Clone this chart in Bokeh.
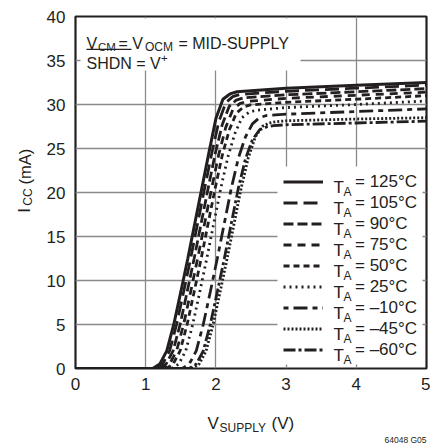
from math import pi
from bokeh.plotting import figure
from bokeh.layouts import column, row
from bokeh.models import Range1d, FixedTicker, Legend, LegendItem, Label, BoxAnnotation
from bokeh.embed import file_html
from bokeh.resources import INLINE

# ---------------- data ----------------
x_ticks = [0, 1, 2, 3, 4, 5]
y_ticks = [0, 5, 10, 15, 20, 25, 30, 35, 40]

temps = ["125°C", "105°C", "90°C", "75°C", "50°C", "25°C", "–10°C", "–45°C", "–60°C"]

v_125 = [0, 1.10, 1.20, 1.30, 1.40, 1.50, 1.60, 1.70, 1.80, 1.90, 2.00, 2.10, 2.20, 2.30, 3.0, 4.0, 5.0]
i_125 = [0, 0, 0.5, 2.0, 5.0, 8.7, 12.5, 16.5, 20.5, 24.5, 28.4, 30.6, 31.2, 31.45, 31.85, 32.2, 32.5]

v_105 = [0, 1.14, 1.24, 1.34, 1.44, 1.54, 1.64, 1.74, 1.84, 1.94, 2.04, 2.14, 2.24, 2.34, 3.0, 4.0, 5.0]
i_105 = [0, 0, 0.5, 2.0, 5.0, 8.7, 12.5, 16.5, 20.5, 24.4, 28.0, 30.2, 30.9, 31.15, 31.5, 31.85, 32.2]

v_90 = [0, 1.19, 1.29, 1.39, 1.49, 1.59, 1.69, 1.79, 1.89, 1.99, 2.09, 2.19, 2.29, 2.39, 3.0, 4.0, 5.0]
i_90 = [0, 0, 0.5, 2.0, 5.0, 8.7, 12.5, 16.5, 20.5, 24.4, 27.7, 29.8, 30.5, 30.75, 31.1, 31.45, 31.8]

v_75 = [0, 1.24, 1.34, 1.44, 1.54, 1.64, 1.74, 1.84, 1.94, 2.04, 2.14, 2.24, 2.34, 2.44, 3.0, 4.0, 5.0]
i_75 = [0, 0, 0.5, 2.0, 5.0, 8.7, 12.5, 16.5, 20.5, 24.3, 27.4, 29.4, 30.1, 30.35, 30.7, 31.05, 31.4]

v_50 = [0, 1.29, 1.39, 1.49, 1.59, 1.69, 1.79, 1.89, 1.99, 2.09, 2.19, 2.29, 2.39, 2.49, 3.0, 4.0, 5.0]
i_50 = [0, 0, 0.5, 2.0, 5.0, 8.7, 12.5, 16.5, 20.5, 24.2, 27.1, 29.0, 29.7, 29.95, 30.25, 30.6, 31.0]

v_25 = [0, 1.37, 1.47, 1.57, 1.67, 1.77, 1.87, 1.97, 2.07, 2.17, 2.27, 2.37, 2.47, 2.57, 3.0, 4.0, 5.0]
i_25 = [0, 0, 0.5, 2.0, 5.0, 8.7, 12.5, 16.5, 20.5, 24.0, 26.7, 28.5, 29.1, 29.35, 29.65, 30.0, 30.4]

v_m10 = [0, 1.52, 1.62, 1.72, 1.82, 1.92, 2.02, 2.12, 2.22, 2.32, 2.42, 2.52, 2.62, 2.72, 3.0, 4.0, 5.0]
i_m10 = [0, 0, 0.5, 2.0, 5.0, 8.7, 12.5, 16.5, 20.5, 23.9, 26.3, 27.8, 28.5, 28.75, 28.9, 29.2, 29.5]

v_m45 = [0, 1.66, 1.76, 1.86, 1.96, 2.06, 2.16, 2.26, 2.36, 2.46, 2.56, 2.66, 2.76, 2.86, 3.0, 4.0, 5.0]
i_m45 = [0, 0, 0.5, 2.0, 5.0, 8.7, 12.5, 16.5, 20.5, 23.9, 26.3, 27.5, 27.9, 28.05, 28.15, 28.35, 28.5]

v_m60 = [0, 1.62, 1.72, 1.82, 1.92, 2.02, 2.12, 2.22, 2.32, 2.42, 2.52, 2.62, 2.72, 2.82, 3.0, 4.0, 5.0]
i_m60 = [0, 0, 0.5, 2.0, 5.0, 8.7, 12.5, 16.5, 20.5, 23.8, 26.0, 27.1, 27.45, 27.6, 27.7, 27.9, 28.1]

series_v = [v_125, v_105, v_90, v_75, v_50, v_25, v_m10, v_m45, v_m60]
series_i = [i_125, i_105, i_90, i_75, i_50, i_25, i_m10, i_m45, i_m60]

# ---------------- styles / layout ----------------
dashes = ["solid", "14 6", "10 4", "8 6", "6 4", "2 4", "5 5 14 5", "2 2", "12 3 3 3"]
widths = [3.0, 2.8, 2.8, 2.8, 2.8, 2.8, 2.8, 2.8, 2.8]
INK = "#231f20"
FONT = "Liberation Sans"

PAGE_W, PAGE_H = 430, 444
LEFT_W = 40              # strip holding the y title
MAIN_H = 400             # main plot height (bottom strip holds the x title)
FL, FT = 75, 16          # frame left/top in page px
FW, FH = 351, 352        # frame size
XMAX, YMAX = 5.0, 40.0

def X(px):  # page px -> data x
    return (px - FL) / FW * XMAX

def Y(py):  # page px -> data y
    return (FT + FH - py) / FH * YMAX

p = figure(width=PAGE_W - LEFT_W, height=MAIN_H, output_backend="svg", toolbar_location=None,
           x_range=Range1d(0, XMAX), y_range=Range1d(0, YMAX),
           min_border_left=FL - LEFT_W, min_border_top=FT,
           min_border_right=PAGE_W - FL - FW, min_border_bottom=MAIN_H - FT - FH)
p.background_fill_color = "white"
p.border_fill_color = "white"
p.outline_line_color = INK
p.outline_line_width = 2.2

p.xaxis.ticker = FixedTicker(ticks=x_ticks)
p.yaxis.ticker = FixedTicker(ticks=y_ticks)
for ax in (p.xaxis[0], p.yaxis[0]):
    ax.axis_line_color = None
    ax.major_tick_in = 0
    ax.major_tick_out = 0
    ax.minor_tick_line_color = None
    ax.major_label_text_font = FONT
    ax.major_label_text_font_size = "17px"
    ax.major_label_text_color = INK
p.yaxis.major_label_standoff = 10
p.xaxis.major_label_standoff = 9

p.xgrid.ticker = FixedTicker(ticks=x_ticks)
p.ygrid.ticker = FixedTicker(ticks=y_ticks)
p.grid.grid_line_color = "#8a8a8a"
p.grid.grid_line_width = 1.3

# white boxes that hide the grid behind the legend and the condition text
p.add_layout(BoxAnnotation(left=X(277), right=X(422), top=Y(166), bottom=Y(364),
                           fill_color="white", fill_alpha=1.0, line_color=None))
p.add_layout(BoxAnnotation(left=X(80), right=X(300), top=Y(18), bottom=Y(70),
                           fill_color="white", fill_alpha=1.0, line_color=None))

renderers = []
for v, i, d, w in zip(series_v, series_i, dashes, widths):
    r = p.line(v, i, line_color=INK, line_width=w, line_dash=d)
    renderers.append(r)

# legend (sample lines + "= xx°C"); "T" and subscript "A" added as labels
off, rowh, n = 8, 21, len(temps)
legend = Legend(items=[LegendItem(label="= " + t, renderers=[r]) for t, r in zip(temps, renderers)],
                location="bottom_right", margin=off, padding=off, spacing=0,
                glyph_width=40, glyph_height=rowh, label_height=rowh, label_width=63,
                label_standoff=32, background_fill_alpha=0.0,
                border_line_color=None, label_text_font=FONT, label_text_font_size="17px",
                label_text_color=INK)
p.add_layout(legend, "center")

def txt(fig, px, py, s, size, angle=0.0, conv=True):
    fig.add_layout(Label(x=X(px) if conv else px, y=Y(py) if conv else py, text=s,
                         text_font=FONT, text_font_size=size, text_color=INK,
                         text_baseline="alphabetic", angle=angle, level="overlay"))

last_c = FT + FH - off - rowh / 2
for k in range(n):
    c = last_c - (n - 1 - k) * rowh
    txt(p, 333, c + 5.5, "T", "17px")
    txt(p, 343, c + 9.5, "A", "12px")

# condition annotation
txt(p, 86, 43, "V", "16px")
txt(p, 97.5, 46, "CM", "11.5px")
txt(p, 118, 43, "= V", "16px")
txt(p, 144.5, 46, "OCM", "12px")
txt(p, 178, 43, "= MID-SUPPLY", "16px")
txt(p, 86, 63, "SHDN = V", "16px")
txt(p, 160.5, 57, "+", "11.5px")
p.add_layout(BoxAnnotation(left=X(86), right=X(131), top=Y(48.2), bottom=Y(49.6),
                           fill_color=INK, fill_alpha=1.0, line_color=None))

# ---- strips for the axis titles (page-pixel coordinates) ----
def strip(w, h, x0, y0):
    f = figure(width=w, height=h, output_backend="svg", toolbar_location=None,
               x_range=Range1d(x0, x0 + w), y_range=Range1d(y0 + h, y0),
               x_axis_type=None, y_axis_type=None, min_border=0,
               min_border_left=0, min_border_right=0, min_border_top=0, min_border_bottom=0)
    f.outline_line_color = None
    f.background_fill_color = "white"
    f.border_fill_color = "white"
    return f

ly = strip(LEFT_W, MAIN_H, 0, 0)
txt(ly, 24, 223, "I", "17px", pi / 2, conv=False)
txt(ly, 27.5, 215, "CC", "12px", pi / 2, conv=False)
txt(ly, 24, 191, "(mA)", "16.5px", pi / 2, conv=False)

bx = strip(PAGE_W, PAGE_H - MAIN_H, 0, MAIN_H)
txt(bx, 207, 423, "V", "17px", conv=False)
txt(bx, 219, 427, "SUPPLY", "12px", conv=False)
txt(bx, 271, 423, "(V)", "17px", conv=False)
txt(bx, 384, 439, "64048 G05", "8.5px", conv=False)

layout = column(row(ly, p, spacing=0), bx, spacing=0)
open("out.html", "w").write(file_html(layout, INLINE))
